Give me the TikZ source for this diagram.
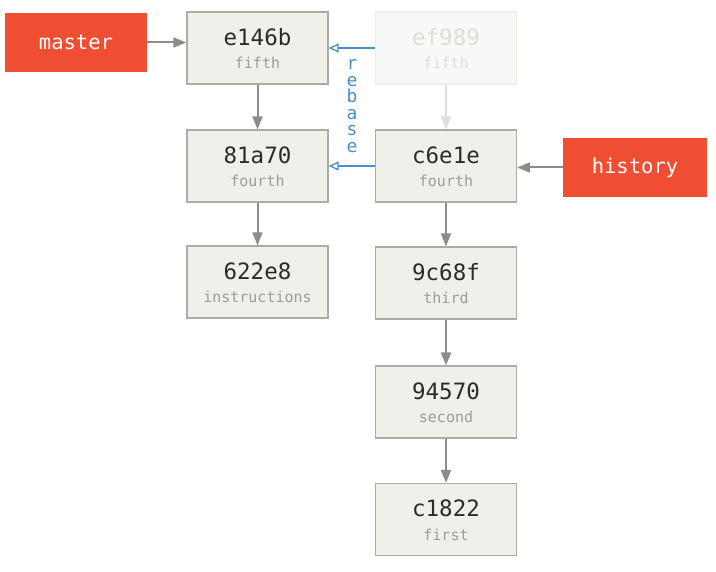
\documentclass[tikz,border=0pt]{standalone}
\usepackage{fontspec}
\setmonofont{DejaVu Sans Mono}
\usetikzlibrary{arrows.meta}
\definecolor{gitred}{HTML}{F04E32}
\definecolor{boxfill}{HTML}{F0EFEA}
\definecolor{boxline}{HTML}{ABABA8}
\definecolor{hashcol}{HTML}{2B2B2B}
\definecolor{msgcol}{HTML}{9C9C9C}
\definecolor{fadefill}{HTML}{F8F8F6}
\definecolor{fadeline}{HTML}{EDEDEA}
\definecolor{fadetext}{HTML}{DDDDDA}
\definecolor{arrowcol}{HTML}{8E8C8A}
\definecolor{rebblue}{HTML}{4C8FCB}
\tikzset{
  x=1pt,y=-1pt,
  commit/.style={draw=boxline,fill=boxfill,line width=1.3pt,minimum width=141pt,minimum height=72pt,inner sep=0pt},
  fadecommit/.style={commit,draw=fadeline,fill=fadefill},
  hashtxt/.style={font=\ttfamily\fontsize{22.5}{26}\selectfont,text=hashcol,inner sep=0pt},
  msgtxt/.style={font=\ttfamily\fontsize{15}{17}\selectfont,text=msgcol,inner sep=0pt},
  branch/.style={fill=gitred,draw=none,minimum width=142pt,minimum height=59pt,inner sep=0pt,font=\ttfamily\fontsize{20.5}{24}\selectfont,text=white},
  parent/.style={draw=arrowcol,line width=2pt,-{Triangle[length=13pt,width=10pt]}},
  fadeparent/.style={parent,draw=fadetext,color=fadetext},
  rebarrow/.style={draw=rebblue,line width=1.3pt,-{Triangle[open,length=10pt,width=9pt]}},
}
\newcommand{\mkcommit}[6]{%
  \node[#6] (#1) at (#2,#3) {};
  \node[hashtxt,#4] (#1h) at ([yshift=11pt]#1.center) {#5};
}
\newcommand{\mkmsg}[3]{\node[msgtxt,#2] (#1m) at ([yshift=-15pt]#1.center) {#3};}
\begin{document}
\begin{tikzpicture}
\useasboundingbox (0,0) rectangle (716,572);
\fill[white] (0,0) rectangle (716,572);
% left column
\mkcommit{e146b}{257.5}{48}{}{e146b}{commit}
\mkmsg{e146b}{}{fifth}
\mkcommit{c81a70}{257.5}{166}{}{81a70}{commit}
\mkmsg{c81a70}{}{fourth}
\mkcommit{c622e8}{257.5}{282}{}{622e8}{commit}
\mkmsg{c622e8}{}{instructions}
% right column
\mkcommit{ef989}{446}{48}{text=fadetext}{ef989}{fadecommit}
\mkmsg{ef989}{text=fadetext}{fifth}
\mkcommit{c6e1e}{446}{166}{}{c6e1e}{commit}
\mkmsg{c6e1e}{}{fourth}
\mkcommit{c9c68f}{446}{283}{}{9c68f}{commit}
\mkmsg{c9c68f}{}{third}
\mkcommit{c94570}{446}{402}{}{94570}{commit}
\mkmsg{c94570}{}{second}
\mkcommit{c1822}{446}{519.5}{}{c1822}{commit}
\mkmsg{c1822}{}{first}
% branches
\node[branch] (master) at (76,42.5) {master};
\node[branch,minimum width=144pt] (history) at (635,167.5) {history};
% arrows
\draw[parent] (master.east) -- (master.east -| e146b.west);
\draw[parent] (e146b.south) -- (c81a70.north);
\draw[parent] (c81a70.south) -- (c622e8.north);
\draw[fadeparent] (ef989.south) -- (c6e1e.north);
\draw[parent] (history.west) -- (history.west -| c6e1e.east);
\draw[parent] (c6e1e.south) -- (c9c68f.north);
\draw[parent] (c9c68f.south) -- (c94570.north);
\draw[parent] (c94570.south) -- (c1822.north);
\draw[rebarrow] (ef989.west) -- (e146b.east);
\draw[rebarrow] (c6e1e.west) -- (c81a70.east);
\node[font=\ttfamily\fontsize{18}{16.6}\selectfont,text=rebblue,align=center,inner sep=0pt] (rebase) at (352,106)
  {r\\e\\b\\a\\s\\e};
\end{tikzpicture}
\end{document}
